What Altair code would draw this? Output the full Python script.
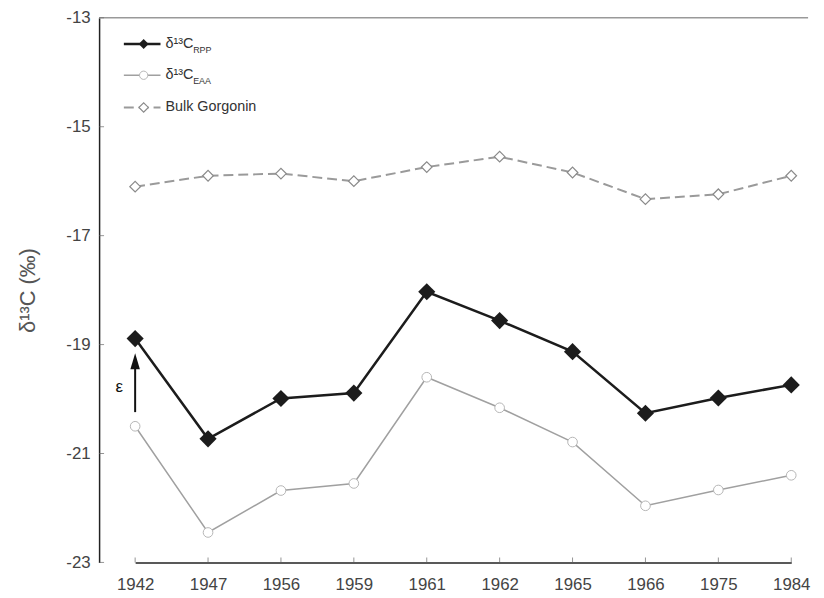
import altair as alt
import pandas as pd

# values
years = ["1942", "1947", "1956", "1959", "1961", "1962", "1965", "1966", "1975", "1984"]
rpp = [-18.89, -20.73, -19.99, -19.89, -18.03, -18.56, -19.13, -20.26, -19.98, -19.74]
eaa = [-20.50, -22.45, -21.68, -21.55, -19.60, -20.16, -20.79, -21.96, -21.67, -21.40]
bulk = [-16.10, -15.90, -15.86, -16.00, -15.74, -15.55, -15.84, -16.33, -16.24, -15.90]
y_ticks = [-13, -15, -17, -19, -21, -23]

# epsilon arrow annotation (1942, from EAA up to RPP)
eps_year = "1942"
eps_from = -20.24
eps_to = -19.16
eps_label_y = -19.78

FONT = "Arial, Liberation Sans, sans-serif"
W, H = 716, 550

df = pd.concat([
    pd.DataFrame({"year": years, "value": bulk, "series": "bulk"}),
    pd.DataFrame({"year": years, "value": eaa, "series": "eaa"}),
    pd.DataFrame({"year": years, "value": rpp, "series": "rpp"}),
])

x_enc = alt.X(
    "year:N", sort=years, title=None,
    scale=alt.Scale(type="point", domain=years, range=[36.4, 699], padding=0),
    axis=alt.Axis(ticks=False, grid=False, domainColor="#222", domainWidth=1.5,
                  labelFont=FONT, labelFontSize=17, labelColor="#444",
                  labelPadding=14, labelAngle=0),
)
y_enc = alt.Y(
    "value:Q", title="δ¹³C (‰)",
    scale=alt.Scale(domain=[-23, -13], nice=False, zero=False),
    axis=alt.Axis(values=y_ticks, ticks=False, grid=False, domainColor="#222",
                  domainWidth=1.5, labelFont=FONT, labelFontSize=17,
                  labelColor="#444", labelPadding=9,
                  labelExpr="replace(datum.label, '\u2212', '-')",
                  titleFont=FONT, titleFontSize=22, titleFontWeight="normal",
                  titleColor="#555", titleX=-72, titleY=H / 2, titleAngle=-90,
                  titleAlign="center", titleBaseline="middle"),
)

base = alt.Chart(df).encode(x=x_enc, y=y_enc)

def series(name):
    return base.transform_filter(alt.datum.series == name)

bulk_line = series("bulk").mark_line(color="#9a9a9a", strokeWidth=2, strokeDash=[10, 5])
bulk_pts = series("bulk").mark_point(shape="diamond", size=115, filled=True, fill="white",
                                     stroke="#8a8a8a", strokeWidth=1.2, opacity=1)
eaa_line = series("eaa").mark_line(color="#a0a0a0", strokeWidth=1.5)
eaa_pts = series("eaa").mark_point(shape="circle", size=95, filled=True, fill="white",
                                   stroke="#b5b5b5", strokeWidth=1, opacity=1)
rpp_line = series("rpp").mark_line(color="#1c1c1c", strokeWidth=2.5)
rpp_pts = series("rpp").mark_point(shape="diamond", size=300, filled=True,
                                   color="#1c1c1c", opacity=1)

# inward ticks
xt = alt.Chart(pd.DataFrame({"year": years, "value": [y_ticks[-1]] * len(years)})).mark_tick(
    orient="vertical", size=5, thickness=1, color="#666", yOffset=-2.5
).encode(x=x_enc, y=y_enc)
yt = alt.Chart(pd.DataFrame({"value": y_ticks})).mark_tick(
    orient="horizontal", size=5, thickness=1, color="#666", xOffset=2.5
).encode(x=alt.value(0), y=y_enc)

one = pd.DataFrame({"k": [0]})
top_line = alt.Chart(one).mark_rule(color="#999", strokeWidth=1.5).encode(
    x=alt.value(0), x2=alt.value(W), y=alt.value(0))

# epsilon arrow
arrow_df = pd.DataFrame({"year": [eps_year], "value": [eps_from], "value2": [eps_to - 0.2]})
arrow_shaft = alt.Chart(arrow_df).mark_rule(color="#111", strokeWidth=2).encode(
    x=x_enc, y=y_enc, y2="value2:Q")
arrow_head = alt.Chart(pd.DataFrame({"year": [eps_year], "value": [eps_to]})).mark_point(
    shape="M-0.6,1L0,-1L0.6,1Z", size=256, filled=True, color="#111", opacity=1, yOffset=8
).encode(x=x_enc, y=y_enc)
eps_text = alt.Chart(pd.DataFrame({"year": [eps_year], "value": [eps_label_y]})).mark_text(
    text="ε", font=FONT, fontSize=17, color="#111", dx=-16, baseline="middle"
).encode(x=x_enc, y=y_enc)

# hand-built legend (subscripts need their own text)
def legend_entry(row_y, label, sub, line_kw, point_kw):
    b = alt.Chart(one)
    seg = b.mark_rule(**line_kw).encode(x=alt.value(25), x2=alt.value(62), y=alt.value(row_y))
    sym = b.mark_point(opacity=1, **point_kw).encode(x=alt.value(45), y=alt.value(row_y))
    txt = b.mark_text(align="left", baseline="middle", font=FONT, fontSize=14.5,
                      color="#333").encode(x=alt.value(67), y=alt.value(row_y), text=alt.value(label))
    parts = [seg, sym, txt]
    if sub:
        parts.append(b.mark_text(align="left", baseline="middle", font=FONT, fontSize=9,
                                 color="#333").encode(x=alt.value(95), y=alt.value(row_y + 6),
                                                      text=alt.value(sub)))
    return parts

legend = (
    legend_entry(26.5, "δ¹³C", "RPP", dict(color="#1c1c1c", strokeWidth=2.5),
                 dict(shape="diamond", size=100, filled=True, color="#1c1c1c"))
    + legend_entry(58, "δ¹³C", "EAA", dict(color="#a0a0a0", strokeWidth=1.5),
                   dict(shape="circle", size=70, filled=True, fill="white", stroke="#b5b5b5", strokeWidth=1))
    + legend_entry(90.5, "Bulk Gorgonin", None, dict(color="#9a9a9a", strokeWidth=2, strokeDash=[10, 5]),
                   dict(shape="diamond", size=90, filled=True, fill="white", stroke="#8a8a8a", strokeWidth=1.2))
)

chart = alt.layer(
    top_line, xt, yt,
    bulk_line, bulk_pts, eaa_line, eaa_pts, rpp_line, rpp_pts,
    arrow_shaft, arrow_head, eps_text,
    *legend,
).properties(
    width=W, height=H,
    autosize=alt.AutoSizeParams(type="none"),
    padding={"left": 92, "top": 7, "right": 8, "bottom": 32},
).configure_view(stroke=None)

chart.save("out.html", embed_options={"renderer": "svg", "actions": False})
